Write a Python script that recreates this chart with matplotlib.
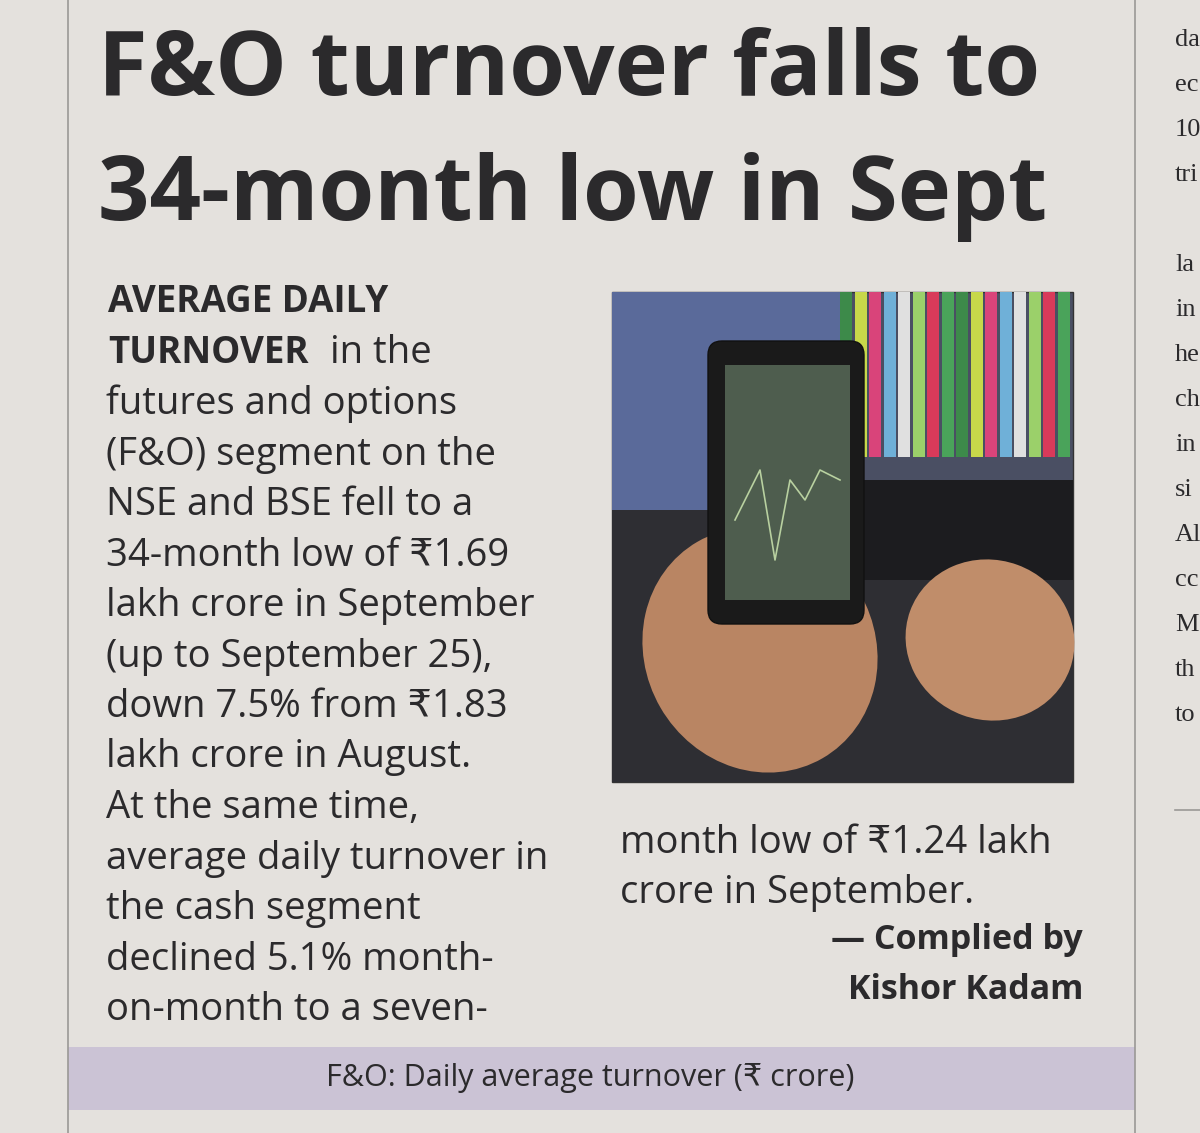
import matplotlib.pyplot as plt
import matplotlib.patches as patches

FONT = ['Open Sans', 'DejaVu Sans']
INK = '#2b2a2c'

headline = ["F&O turnover falls to", "34-month low in Sept"]
body_left = ["futures and options", "(F&O) segment on the", "NSE and BSE fell to a",
             "34-month low of ₹1.69", "lakh crore in September", "(up to September 25),",
             "down 7.5% from ₹1.83", "lakh crore in August.", "At the same time,",
             "average daily turnover in", "the cash segment", "declined 5.1% month-",
             "on-month to a seven-"]
body_right = ["month low of ₹1.24 lakh", "crore in September."]
credit = ["— Complied by", "Kishor Kadam"]
side_col = ["da", "ec", "10", "tri", "", "la", "in", "he", "ch", "in", "si", "Al", "cc", "M", "th", "to"]
band_title = "F&O: Daily average turnover (₹ crore)"
# photo backdrop stripes (colours of the screen bars)
stripe_colors = ['#3d8a4a', '#c7d84a', '#d9447a', '#6fb0d8', '#e0e0e0', '#9bd06a', '#d93a5a', '#4aa35a']

fig = plt.figure(figsize=(12, 11.33), dpi=100)
fig.patch.set_facecolor('#e4e1dd')
ax = fig.add_axes([0, 0, 1, 1])
ax.set_xlim(0, 1200)
ax.set_ylim(1133, 0)
ax.axis('off')

# column rules
ax.plot([68, 68], [0, 1133], color='#9a9896', lw=1.2)
ax.plot([1135, 1135], [0, 1133], color='#9a9896', lw=1.2)
ax.plot([1175, 1200], [810, 810], color='#9a9896', lw=1.2)

for i, line in enumerate(headline):
    ax.text(98, 72 + i * 125, line, fontsize=65, fontweight='bold', color=INK,
            family=FONT, va='center', ha='left')

BS = 27.5
ax.text(108, 302, "AVERAGE DAILY", fontsize=BS - 1, fontweight='bold', color=INK, family=FONT, va='center')
ax.text(108, 353, "TURNOVER", fontsize=BS - 1, fontweight='bold', color=INK, family=FONT, va='center')
ax.text(330, 353, "in the", fontsize=BS, color=INK, family=FONT, va='center')
for i, line in enumerate(body_left):
    ax.text(106, 404 + i * 50.5, line, fontsize=BS, color=INK, family=FONT, va='center')
for i, line in enumerate(body_right):
    ax.text(620, 843 + i * 50, line, fontsize=BS, color=INK, family=FONT, va='center')
for i, line in enumerate(credit):
    ax.text(1083, 940 + i * 50, line, fontsize=24.5, fontweight='bold', color=INK,
            family=FONT, va='center', ha='right')
for i, w in enumerate(side_col):
    ax.text(1175, 40 + i * 45, w, fontsize=19, color=INK, family='Liberation Serif', va='center')

# photo
ax.add_patch(patches.Rectangle((612, 292), 461, 490, facecolor='#4a4f63', edgecolor='#333', lw=1))
ax.add_patch(patches.Rectangle((612, 292), 230, 220, facecolor='#5a6a9a', lw=0))
for k in range(16):
    ax.add_patch(patches.Rectangle((840 + k * 14.5, 292), 12, 165,
                                   facecolor=stripe_colors[k % len(stripe_colors)], lw=0))
ax.add_patch(patches.Rectangle((612, 510), 461, 272, facecolor='#2e2e33', lw=0))
ax.add_patch(patches.Rectangle((860, 480), 213, 100, facecolor='#1c1c1f', lw=0))
# hands
ax.add_patch(patches.Ellipse((760, 650), 230, 250, angle=-30, facecolor='#b98563', lw=0))
ax.add_patch(patches.Ellipse((990, 640), 170, 160, angle=20, facecolor='#c08d6a', lw=0))
# phone
ax.add_patch(patches.FancyBboxPatch((712, 345), 148, 275, boxstyle='round,pad=4,rounding_size=14',
                                    facecolor='#1a1a1a', edgecolor='#111'))
ax.add_patch(patches.Rectangle((725, 365), 125, 235, facecolor='#4e5d4e', lw=0))
ax.plot([735, 760, 775, 790, 805, 820, 840], [520, 470, 560, 480, 500, 470, 480], color='#b8d0a0', lw=1.2)

# bottom band
ax.add_patch(patches.Rectangle((68, 1047), 1067, 63, facecolor='#cbc3d5', lw=0))
ax.text(590, 1078, band_title, fontsize=22, color=INK, family=FONT, va='center', ha='center')

plt.savefig('out.png', dpi=100, facecolor=fig.get_facecolor())
